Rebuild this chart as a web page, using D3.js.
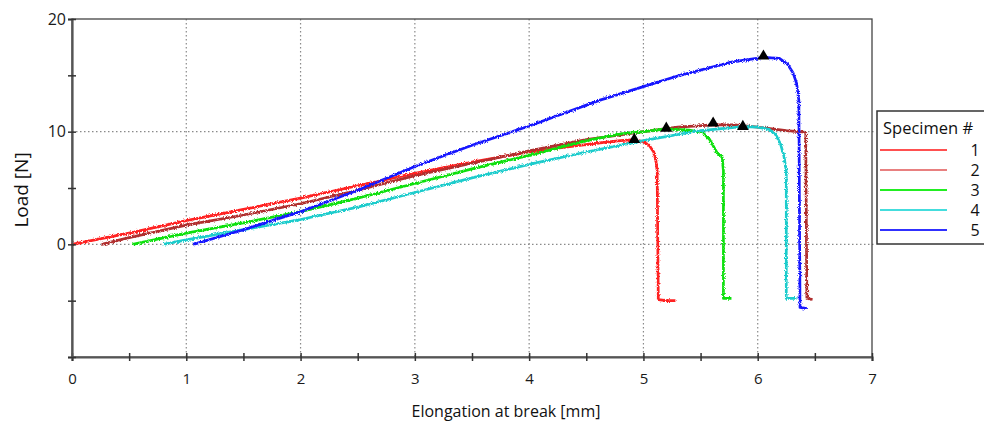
<!DOCTYPE html>
<html>
<head>
<meta charset="utf-8">
<script src="https://cdn.jsdelivr.net/npm/d3@7"></script>
<style>
  body { margin: 0; background: #fff; }
  svg { display: block; font-family: "Open Sans", "DejaVu Sans", sans-serif; }
</style>
</head>
<body>
<svg id="chart" width="984" height="423"></svg>
<script>
// curves: [elongation mm, load N]
const spec1 = [[0,0],[0.5,1.0],[1.0,2.1],[1.5,3.1],[2.0,4.1],[2.5,5.2],[3.0,6.3],[3.5,7.3],[4.0,8.2],[4.3,8.6],[4.62,9.0],[4.8,9.2],[4.92,9.3],[5.0,9.1],[5.05,8.8],[5.09,8.2],[5.11,7.4],[5.12,6.5],[5.13,-4.9],[5.2,-5.0],[5.28,-5.0]];
const spec2 = [[0.26,0],[0.5,0.6],[1.0,1.7],[1.5,2.6],[2.0,3.6],[2.5,4.8],[3.0,6.1],[3.5,7.2],[4.0,8.3],[4.5,9.3],[5.0,10.0],[5.3,10.4],[5.61,10.6],[5.8,10.6],[6.0,10.4],[6.25,10.1],[6.42,9.95],[6.43,-4.8],[6.48,-4.9]];
const spec3 = [[0.53,0],[1.0,1.0],[1.5,1.9],[2.0,2.9],[2.5,4.1],[3.0,5.4],[3.5,6.7],[4.0,7.9],[4.5,9.2],[4.8,9.8],[5.0,10.0],[5.2,10.25],[5.4,10.15],[5.52,9.9],[5.58,9.3],[5.64,8.2],[5.69,7.7],[5.70,6.5],[5.70,-4.8],[5.77,-4.8]];
const spec4 = [[0.8,0],[1.0,0.4],[1.5,1.3],[2.0,2.2],[2.5,3.3],[3.0,4.6],[3.5,5.9],[4.0,7.1],[4.5,8.2],[5.0,9.2],[5.5,10.1],[5.87,10.45],[6.0,10.4],[6.1,10.2],[6.16,9.7],[6.2,8.9],[6.23,7.8],[6.25,6.5],[6.25,-4.8],[6.34,-4.8]];
const spec5 = [[1.06,0],[1.5,1.3],[2.0,2.9],[2.5,4.8],[3.0,6.9],[3.5,8.8],[4.0,10.5],[4.62,12.8],[5.0,14.0],[5.32,15.0],[5.78,16.2],[6.05,16.6],[6.19,16.5],[6.26,16.0],[6.31,15.2],[6.34,14.3],[6.36,12.8],[6.37,-5.6],[6.43,-5.7]];

const specimens = ["1", "2", "3", "4", "5"];
const colors = ["#ff2020", "#b02e2e", "#10e010", "#1ecccc", "#1818ff"];
const legendColors = ["#ff5050", "#e88080", "#22ee22", "#44dddd", "#3030ff"];
// maximum load markers
const peaks = [[4.92,9.3],[5.61,10.75],[5.2,10.3],[5.87,10.45],[6.05,16.7]];

const xTicks = [0,1,2,3,4,5,6,7];
const yTicks = [-10,-5,0,5,10,15,20];
const yLabelled = [0,10,20];
const gridX = [1,2,3,4,5,6];
const gridY = [0,10];

const margin = {top: 19, left: 72, right: 112, bottom: 66};
const w = 984 - margin.left - margin.right;
const h = 423 - margin.top - margin.bottom;

const svg = d3.select("#chart");
const g = svg.append("g").attr("transform", `translate(${margin.left},${margin.top})`);

const xScale = d3.scaleLinear().domain([0, 7]).range([0, w]);
const yScale = d3.scaleLinear().domain([-10, 20]).range([h, 0]);

// noisy look of the measured signal
const defs = svg.append("defs");
const f = defs.append("filter").attr("id", "noise")
    .attr("x", "-5%").attr("y", "-5%").attr("width", "110%").attr("height", "110%");
f.append("feTurbulence").attr("type", "fractalNoise").attr("baseFrequency", 1.1)
    .attr("numOctaves", 2).attr("seed", 3).attr("result", "t");
f.append("feDisplacementMap").attr("in", "SourceGraphic").attr("in2", "t")
    .attr("scale", 3.5).attr("xChannelSelector", "R").attr("yChannelSelector", "G");

// grid
g.append("g").selectAll("line").data(gridX).join("line")
    .attr("x1", d => xScale(d)).attr("x2", d => xScale(d))
    .attr("y1", 0).attr("y2", h)
    .attr("stroke", "#8a8a8a").attr("stroke-width", 1.2).attr("stroke-dasharray", "1.5,2.5");
g.append("g").selectAll("line").data(gridY).join("line")
    .attr("y1", d => yScale(d)).attr("y2", d => yScale(d))
    .attr("x1", 0).attr("x2", w + 4)
    .attr("stroke", "#8a8a8a").attr("stroke-width", 1.2).attr("stroke-dasharray", "1.5,2.5");

// frame
g.append("rect").attr("width", w).attr("height", h)
    .attr("fill", "none").attr("stroke", "#444").attr("stroke-width", 1.3);

const line = d3.line()
    .x(d => xScale(d[0]))
    .y(d => yScale(d[1]));

const series = [spec1, spec2, spec3, spec4, spec5];
g.append("g").attr("filter", "url(#noise)")
    .selectAll("path").data(series).join("path")
    .attr("fill", "none")
    .attr("stroke", (d, i) => colors[i])
    .attr("stroke-width", 2.7)
    .attr("stroke-linejoin", "round")
    .attr("d", line);

g.append("g").selectAll("path").data(peaks).join("path")
    .attr("transform", d => `translate(${xScale(d[0])},${yScale(d[1])})`)
    .attr("d", d3.symbol(d3.symbolTriangle, 60))
    .attr("fill", "#000");

// axes
const xAxis = d3.axisBottom(xScale).tickValues(d3.range(0, 7.01, 0.5))
    .tickFormat(d => xTicks.includes(d) ? d : "").tickSize(4);
g.append("g").attr("transform", `translate(0,${h})`).call(xAxis)
    .call(a => a.select(".domain").attr("stroke", "#555").attr("stroke-width", 2.2))
    .call(a => a.selectAll(".tick line").attr("y1", -4).attr("stroke", "#333").attr("stroke-width", 1.5))
    .call(a => a.selectAll(".tick text").attr("font-size", 15).attr("fill", "#1a1a1a")
        .attr("font-family", "Open Sans").attr("dy", "1.35em"));

const yAxis = d3.axisLeft(yScale).tickValues(yTicks)
    .tickFormat(d => yLabelled.includes(d) ? d : "").tickSize(4);
g.append("g").call(yAxis)
    .call(a => a.select(".domain").attr("stroke", "#555").attr("stroke-width", 2.2))
    .call(a => a.selectAll(".tick line").attr("x1", 4).attr("stroke", "#333").attr("stroke-width", 1.5))
    .call(a => a.selectAll(".tick text").attr("font-size", 16).attr("fill", "#1a1a1a")
        .attr("font-family", "Open Sans").attr("x", -6));

svg.append("text")
    .attr("x", 506).attr("y", 417)
    .attr("text-anchor", "middle").attr("font-size", 16).attr("fill", "#111")
    .text("Elongation at break [mm]");

svg.append("text")
    .attr("transform", "translate(28,190) rotate(-90)")
    .attr("text-anchor", "middle").attr("font-size", 19).attr("fill", "#111")
    .text("Load [N]");

// legend
const lg = svg.append("g").attr("transform", "translate(877,111)");
lg.append("rect").attr("width", 130).attr("height", 133)
    .attr("fill", "#fff").attr("stroke", "#333").attr("stroke-width", 1.5);
lg.append("text").attr("x", 6).attr("y", 23).attr("font-size", 16.5).attr("fill", "#111")
    .text("Specimen #");
const items = lg.selectAll("g.item").data(specimens).join("g").attr("class", "item")
    .attr("transform", (d, i) => `translate(0,${39 + i * 20})`);
items.append("line").attr("x1", 3).attr("x2", 70)
    .attr("stroke", (d, i) => legendColors[i]).attr("stroke-width", 2);
items.append("text").attr("x", 98).attr("dy", "0.36em").attr("text-anchor", "middle")
    .attr("font-size", 16).attr("fill", "#111").text(d => d);
</script>
</body>
</html>
